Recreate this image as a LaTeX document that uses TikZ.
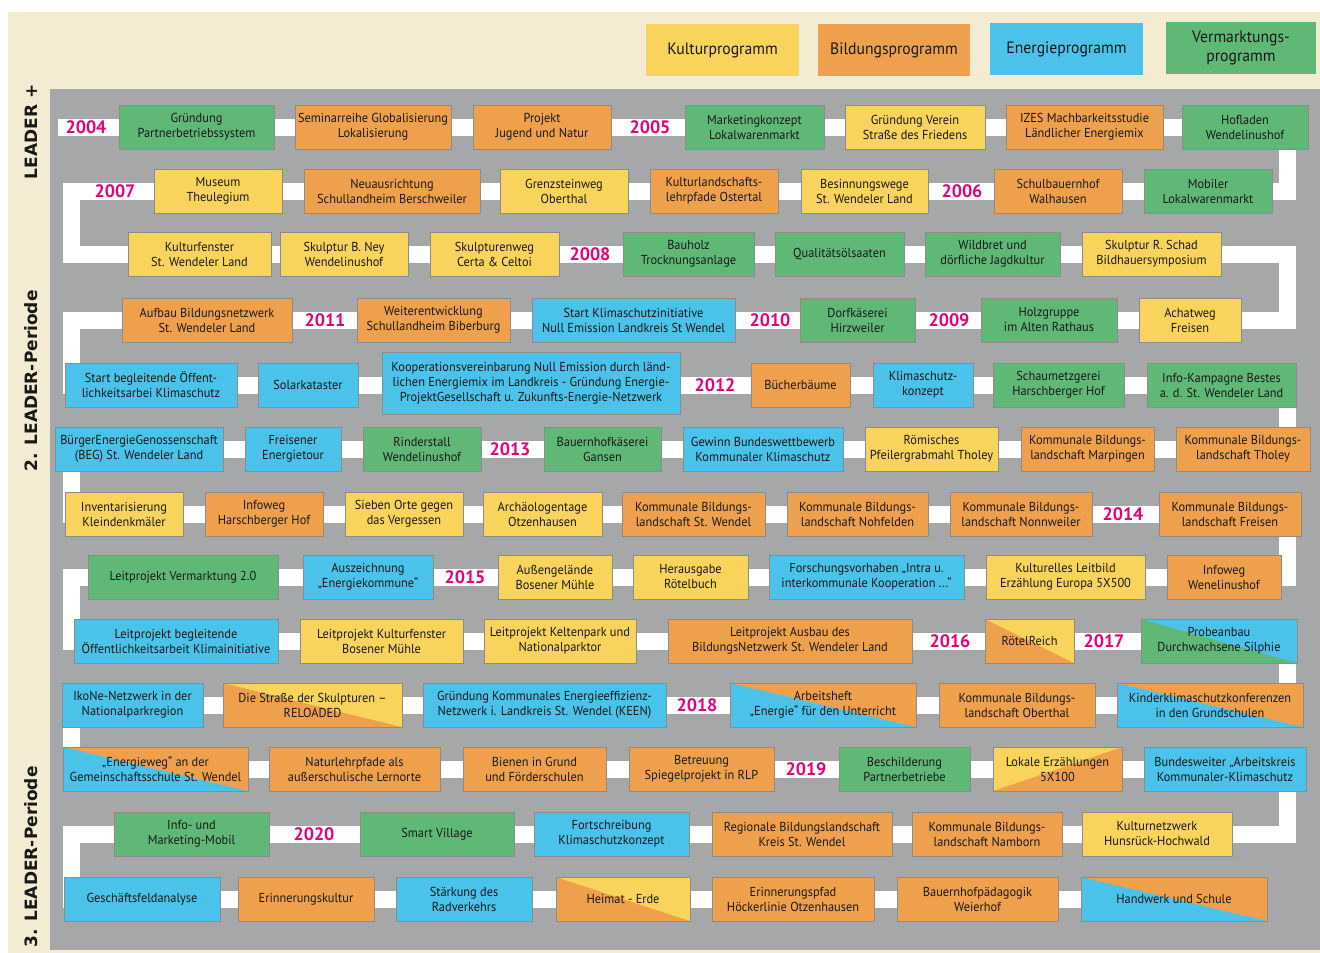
\documentclass[tikz,border=0pt]{standalone}
\usepackage{fontspec}
\setmainfont{PT Sans}[FakeStretch=0.95]
\newfontfamily\yearfont{PT Sans}
\newfontfamily\labfont{DejaVu Sans}
\definecolor{cy}{RGB}{248,212,92}
\definecolor{co}{RGB}{239,160,76}
\definecolor{cb}{RGB}{75,194,234}
\definecolor{cg}{RGB}{96,184,118}
\definecolor{bgc}{RGB}{243,236,210}
\definecolor{grc}{RGB}{166,167,169}
\definecolor{yrc}{RGB}{228,0,124}
\newcommand\bx[6]{\node[box,#5,minimum width={#3-#2}] (#1) at ({(#2+#3)/2},#4) {#6};}
\newcommand\yr[3]{\node[yearlab] (#1) at (#2) {#3};}
\begin{document}
\begin{tikzpicture}[x=1pt,y=-1pt,
  box/.style={draw=black!45,line width=0.4pt,minimum height=44pt,inner xsep=1pt,inner ysep=0pt,
    align=center,text=black!90,font=\fontsize{13}{15}\selectfont},
  yel/.style={fill=cy}, org/.style={fill=co}, blu/.style={fill=cb}, grn/.style={fill=cg},
  splitA/.style 2 args={fill=#2,path picture={\fill[#1] (path picture bounding box.north west) -- (path picture bounding box.north east) -- (path picture bounding box.south east) -- cycle;}},
  splitB/.style 2 args={fill=#2,path picture={\fill[#1] (path picture bounding box.north west) -- (path picture bounding box.north east) -- (path picture bounding box.south west) -- cycle;}},
  yearlab/.style={fill=white,text=yrc,inner sep=1.5pt,font=\yearfont\bfseries\fontsize{18}{18}\selectfont},
  leg/.style={minimum height=52pt,align=center,text=black!90,font=\fontsize{16.5}{19}\selectfont},
  plab/.style={rotate=90,text=black!90,font=\labfont\bfseries\fontsize{17}{17}\selectfont}]
\useasboundingbox (0,0) rectangle (1320,953);
\fill[white] (0,0) rectangle (1320,953);
\fill[bgc] (8,12) rectangle (1320,953);
\fill[grc] (50,89) rectangle (1320,950);
% snake path
\draw[white,line width=17pt,line join=miter]
  (58,127) -- (1287,127) -- (1287,191) -- (71,191) -- (71,254) -- (1287,254) -- (1287,320)
  -- (71,320) -- (71,385) -- (1287,385) -- (1287,449) -- (71,449) -- (71,514) -- (1287,514)
  -- (1287,577) -- (71,577) -- (71,641) -- (1287,641) -- (1287,705) -- (71,705) -- (71,769)
  -- (1287,769) -- (1287,834) -- (71,834) -- (71,899) -- (1265,899);
% legend
\node[leg,fill=cy,minimum width=153pt] (lk) at (722.5,50) {Kulturprogramm};
\node[leg,fill=co,minimum width=152pt] (lb) at (894,50) {Bildungsprogramm};
\node[leg,fill=cb,minimum width=153pt] (le) at (1066.5,49) {Energieprogramm};
\node[leg,fill=cg,minimum width=150pt] (lv) at (1241,48) {Vermarktungs-\\programm};
% period labels
\node[plab] (p1) at (31,132) {LEADER +};
\node[plab] (p2) at (31,381) {2. LEADER-Periode};
\node[plab] (p3) at (31,857) {3. LEADER-Periode};
% row 1
\yr{y04}{86,127}{2004}
\bx{r1a}{119}{274}{127}{grn}{Gründung\\Partnerbetriebssystem}
\bx{r1b}{295}{451}{127}{org}{Seminarreihe Globalisierung\\Lokalisierung}
\bx{r1c}{473}{611}{127}{org}{Projekt\\Jugend und Natur}
\yr{y05}{650,127}{2005}
\bx{r1d}{685}{824}{127}{grn}{Marketingkonzept\\Lokalwarenmarkt}
\bx{r1e}{845}{985}{127}{yel}{Gründung Verein\\Straße des Friedens}
\bx{r1f}{1006}{1163}{127}{org}{IZES Machbarkeitsstudie\\Ländlicher Energiemix}
\bx{r1g}{1182}{1308}{127}{grn}{Hofladen\\Wendelinushof}
% row 2
\yr{y07}{115,191}{2007}
\bx{r2a}{154}{282}{191}{yel}{Museum\\Theulegium}
\bx{r2b}{304}{480}{191}{org}{Neuausrichtung\\Schullandheim Berschweiler}
\bx{r2c}{500}{628}{191}{yel}{Grenzsteinweg\\Oberthal}
\bx{r2d}{650}{778}{191}{org}{Kulturlandschafts-\\lehrpfade Ostertal}
\bx{r2e}{801}{928}{191}{yel}{Besinnungswege\\St. Wendeler Land}
\yr{y06}{962,191}{2006}
\bx{r2f}{994}{1122}{191}{org}{Schulbauernhof\\Walhausen}
\bx{r2g}{1144}{1272}{191}{grn}{Mobiler\\Lokalwarenmarkt}
% row 3
\bx{r3a}{128}{271}{254}{yel}{Kulturfenster\\St. Wendeler Land}
\bx{r3b}{280}{408}{254}{yel}{Skulptur B. Ney\\Wendelinushof}
\bx{r3c}{430}{559}{254}{yel}{Skulpturenweg\\Certa \& Celtoi}
\yr{y08}{590,254}{2008}
\bx{r3d}{623}{754}{254}{grn}{Bauholz\\Trocknungsanlage}
\bx{r3e}{775}{904}{254}{grn}{Qualitätsölsaaten}
\bx{r3f}{925}{1060}{254}{grn}{Wildbret und\\dörfliche Jagdkultur}
\bx{r3g}{1082}{1221}{254}{yel}{Skulptur R. Schad\\Bildhauersymposium}
% row 4
\bx{r4a}{122}{292}{320}{org}{Aufbau Bildungsnetzwerk\\St. Wendeler Land}
\yr{y11}{325,320}{2011}
\bx{r4b}{357}{510}{320}{org}{Weiterentwicklung\\Schullandheim Biberburg}
\bx{r4c}{532}{735}{320}{blu}{Start Klimaschutzinitiative\\Null Emission Landkreis St Wendel}
\yr{y10}{770,320}{2010}
\bx{r4d}{800}{915}{320}{grn}{Dorfkäserei\\Hirzweiler}
\yr{y09}{949,320}{2009}
\bx{r4e}{981}{1117}{320}{grn}{Holzgruppe\\im Alten Rathaus}
\bx{r4f}{1139}{1241}{320}{yel}{Achatweg\\Freisen}
% row 5
\bx{r5a}{65}{237}{385}{blu}{Start begleitende Öffent-\\lichkeitsarbei Klimaschutz}
\bx{r5b}{258}{358}{385}{blu}{Solarkataster}
\node[box,blu,minimum width=298pt,minimum height=62pt] (r5c) at (531,383) {Kooperationsvereinbarung Null Emission durch länd-\\lichen Energiemix im Landkreis - Gründung Energie-\\ProjektGesellschaft u. Zukunfts-Energie-Netzwerk};
\yr{y12}{715,385}{2012}
\bx{r5d}{751}{850}{385}{org}{Bücherbäume}
\bx{r5e}{873}{973}{385}{blu}{Klimaschutz-\\konzept}
\bx{r5f}{993}{1124}{385}{grn}{Schaumetzgerei\\Harschberger Hof}
\bx{r5g}{1147}{1296}{385}{grn}{Info-Kampagne Bestes\\a. d. St. Wendeler Land}
% row 6
\bx{r6a}{55}{223}{449}{blu}{BürgerEnergieGenossenschaft\\(BEG) St. Wendeler Land}
\bx{r6b}{245}{341}{449}{blu}{Freisener\\Energietour}
\bx{r6c}{363}{481}{449}{grn}{Rinderstall\\Wendelinushof}
\yr{y13}{510,449}{2013}
\bx{r6d}{544}{661}{449}{grn}{Bauernhofkäserei\\Gansen}
\bx{r6e}{683}{843}{449}{blu}{Gewinn Bundeswettbewerb\\Kommunaler Klimaschutz}
\bx{r6f}{865}{998}{449}{yel}{Römisches\\Pfeilergrabmahl Tholey}
\bx{r6g}{1021}{1154}{449}{org}{Kommunale Bildungs-\\landschaft Marpingen}
\bx{r6h}{1176}{1310}{449}{org}{Kommunale Bildungs-\\landschaft Tholey}
% row 7
\bx{r7a}{65}{183}{514}{yel}{Inventarisierung\\Kleindenkmäler}
\bx{r7b}{205}{323}{514}{org}{Infoweg\\Harschberger Hof}
\bx{r7c}{345}{463}{514}{yel}{Sieben Orte gegen\\das Vergessen}
\bx{r7d}{483}{602}{514}{yel}{Archäologentage\\Otzenhausen}
\bx{r7e}{622}{765}{514}{org}{Kommunale Bildungs-\\landschaft St. Wendel}
\bx{r7f}{787}{928}{514}{org}{Kommunale Bildungs-\\landschaft Nohfelden}
\bx{r7g}{950}{1092}{514}{org}{Kommunale Bildungs-\\landschaft Nonnweiler}
\yr{y14}{1123,514}{2014}
\bx{r7h}{1159}{1301}{514}{org}{Kommunale Bildungs-\\landschaft Freisen}
% row 8
\bx{r8a}{88}{278}{577}{grn}{Leitprojekt Vermarktung 2.0}
\bx{r8b}{303}{433}{577}{blu}{Auszeichnung\\„Energiekommune“}
\yr{y15}{465,577}{2015}
\bx{r8c}{498}{612}{577}{yel}{Außengelände\\Bosener Mühle}
\bx{r8d}{633}{748}{577}{yel}{Herausgabe\\Rötelbuch}
\bx{r8e}{769}{964}{577}{blu}{Forschungsvorhaben „Intra u.\\interkommunale Kooperation ...“}
\bx{r8f}{986}{1145}{577}{yel}{Kulturelles Leitbild\\Erzählung Europa 5X500}
\bx{r8g}{1167}{1281}{577}{org}{Infoweg\\Wenelinushof}
% row 9
\bx{r9a}{74}{278}{641}{blu}{Leitprojekt begleitende\\Öffentlichkeitsarbeit Klimainitiative}
\bx{r9b}{300}{463}{641}{yel}{Leitprojekt Kulturfenster\\Bosener Mühle}
\bx{r9c}{484}{636}{641}{yel}{Leitprojekt Keltenpark und\\Nationalparktor}
\bx{r9d}{668}{912}{641}{org}{Leitprojekt Ausbau des\\BildungsNetzwerk St. Wendeler Land}
\yr{y16}{950,641}{2016}
\bx{r9e}{985}{1074}{641}{splitA={cy}{co}}{RötelReich}
\yr{y17}{1104,641}{2017}
\bx{r9f}{1141}{1297}{641}{splitA={cb}{cg}}{Probeanbau\\Durchwachsene Silphie}
% row 10
\bx{r10a}{62}{203}{705}{blu}{IkoNe-Netzwerk in der\\Nationalparkregion}
\bx{r10b}{223}{402}{705}{splitA={cy}{co}}{Die Straße der Skulpturen –\\RELOADED}
\bx{r10c}{423}{666}{705}{blu}{Gründung Kommunales Energieeffizienz-\\Netzwerk i. Landkreis St. Wendel (KEEN)}
\yr{y18}{697,705}{2018}
\bx{r10d}{730}{916}{705}{splitA={co}{cb}}{Arbeitsheft\\„Energie“ für den Unterricht}
\bx{r10e}{939}{1095}{705}{org}{Kommunale Bildungs-\\landschaft Oberthal}
\bx{r10f}{1117}{1303}{705}{splitA={co}{cb}}{Kinderklimaschutzkonferenzen\\in den Grundschulen}
% row 11
\bx{r11a}{63}{248}{769}{splitA={co}{cb}}{„Energieweg“ an der\\Gemeinschaftsschule St. Wendel}
\bx{r11b}{269}{440}{769}{org}{Naturlehrpfade als\\außerschulische Lernorte}
\bx{r11c}{463}{606}{769}{org}{Bienen in Grund\\und Förderschulen}
\bx{r11d}{629}{774}{769}{org}{Betreuung\\Spiegelprojekt in RLP}
\yr{y19}{806,769}{2019}
\bx{r11e}{839}{970}{769}{grn}{Beschilderung\\Partnerbetriebe}
\bx{r11f}{993}{1122}{769}{splitB={cy}{co}}{Lokale Erzählungen\\5X100}
\bx{r11g}{1144}{1306}{769}{blu}{Bundesweiter „Arbeitskreis\\Kommunaler-Klimaschutz}
% row 12
\bx{r12a}{114}{269}{834}{grn}{Info- und\\Marketing-Mobil}
\yr{y20}{314,834}{2020}
\bx{r12b}{360}{514}{834}{grn}{Smart Village}
\bx{r12c}{534}{689}{834}{blu}{Fortschreibung\\Klimaschutzkonzept}
\bx{r12d}{712}{892}{834}{org}{Regionale Bildungslandschaft\\Kreis St. Wendel}
\bx{r12e}{912}{1062}{834}{org}{Kommunale Bildungs-\\landschaft Namborn}
\bx{r12f}{1082}{1232}{834}{yel}{Kulturnetzwerk\\Hunsrück-Hochwald}
% row 13
\bx{r13a}{64}{220}{899}{blu}{Geschäftsfeldanalyse}
\bx{r13b}{238}{374}{899}{org}{Erinnerungskultur}
\bx{r13c}{396}{532}{899}{blu}{Stärkung des\\Radverkehrs}
\bx{r13d}{556}{690}{899}{splitA={cy}{co}}{Heimat - Erde}
\bx{r13e}{712}{874}{899}{org}{Erinnerungspfad\\Höckerlinie Otzenhausen}
\bx{r13f}{897}{1058}{899}{org}{Bauernhofpädagogik\\Weierhof}
\bx{r13g}{1081}{1267}{899}{splitA={co}{cb}}{Handwerk und Schule}
\end{tikzpicture}
\end{document}
